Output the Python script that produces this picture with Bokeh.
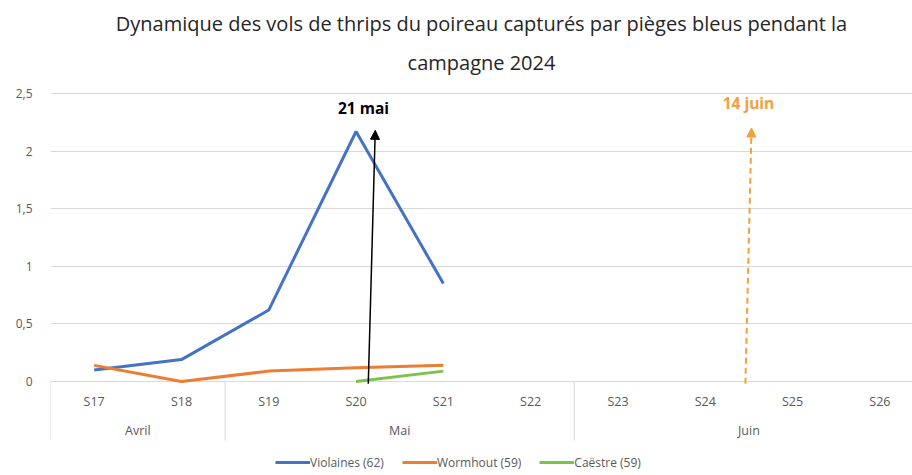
import numpy as np
from bokeh.plotting import figure
from bokeh.models import Range1d, FixedTicker, Arrow, NormalHead, Legend, LegendItem, Title
from bokeh.core.properties import value
from bokeh.embed import file_html
from bokeh.resources import INLINE

nan = np.nan
weeks = ["S17", "S18", "S19", "S20", "S21", "S22", "S23", "S24", "S25", "S26"]
months = ["Avril", "Mai", "Juin"]
weeks_per_month = [2, 4, 4]
violaines = [0.10, 0.19, 0.62, 2.17, 0.85, nan, nan, nan, nan, nan]
wormhout = [0.14, 0.00, 0.09, 0.12, 0.14, nan, nan, nan, nan, nan]
caestre = [nan, nan, nan, 0.00, 0.09, nan, nan, nan, nan, nan]
y_ticks = [0, 0.5, 1, 1.5, 2, 2.5]
y_tick_labels = ["0", "0,5", "1", "1,5", "2", "2,5"]
series_names = ["Violaines (62)", "Wormhout (59)", "Caëstre (59)"]
series_colors = ["#4472C4", "#ED7D31", "#7DC24B"]
title_lines = ["Dynamique des vols de thrips du poireau capturés par pièges bleus pendant la",
               "campagne 2024"]
event_labels = ["21 mai", "14 juin"]
event_x_start = [3.64, 7.96]
event_x_end = [3.72, 8.03]
event_y_end = [2.18, 2.20]
event_label_x = [3.585, 7.995]
event_label_y = [2.37, 2.42]
event_colors = ["#000000", "#F2A03A"]
event_dash = ["solid", "6 4"]

FONT = "Open Sans"
GREY_TXT = "#595959"
GRID = "#d9d9d9"

x = np.arange(len(weeks)) + 0.5

p = figure(width=912, height=475, output_backend="svg", toolbar_location=None,
           x_range=Range1d(0, 9.874), y_range=Range1d(-0.816, 2.569),
           x_axis_type=None, min_border_left=50, min_border_right=0,
           min_border_top=85, min_border_bottom=0)
p.outline_line_color = None
p.background_fill_color = "white"
p.xgrid.visible = False

# title: two centred lines (first line on top)
p.title.text = title_lines[0]
p.title.align = "center"
p.title.text_font = FONT
p.title.text_font_size = "20px"
p.title.text_font_style = "normal"
p.title.text_color = "#262626"
p.title.text_line_height = 1.0
p.title.standoff = 0
p.title.offset = -8
p.add_layout(Title(text=title_lines[1], align="center", text_font=FONT, text_font_size="20px",
                   text_font_style="normal", text_color="#262626", standoff=20,
                   text_line_height=1.0, offset=-8), "above")

yax = p.yaxis[0]
yax.ticker = FixedTicker(ticks=y_ticks)
yax.major_label_overrides = {t: l for t, l in zip(y_ticks, y_tick_labels)}
yax.axis_line_color = None
yax.major_tick_line_color = None
yax.minor_tick_line_color = None
yax.major_label_text_font = FONT
yax.major_label_text_font_size = "12px"
yax.major_label_text_color = GREY_TXT
yax.major_label_standoff = 12
p.ygrid.ticker = FixedTicker(ticks=y_ticks)
p.ygrid.grid_line_color = GRID

# category labels
p.text(x=x, y=-0.174, text=weeks, text_align="center", text_baseline="middle",
       text_font=value(FONT), text_font_size="12.5px", text_color=GREY_TXT)
edges = np.concatenate([[0], np.cumsum(weeks_per_month)])
mcent = (edges[:-1] + edges[1:]) / 2
p.text(x=mcent, y=-0.425, text=months, text_align="center", text_baseline="middle",
       text_font=value(FONT), text_font_size="12.5px", text_color=GREY_TXT)
p.segment(x0=edges, y0=0, x1=edges, y1=-0.512, line_color=GRID, line_width=1)

items = []
for vals, name, col in zip([violaines, wormhout, caestre], series_names, series_colors):
    r = p.line(x, vals, line_color=col, line_width=3)
    items.append(LegendItem(label=name, renderers=[r]))

for i in range(len(event_labels)):
    p.add_layout(Arrow(end=NormalHead(size=9, fill_color=event_colors[i], line_color=event_colors[i]),
                       x_start=event_x_start[i], y_start=-0.02, x_end=event_x_end[i], y_end=event_y_end[i],
                       line_color=event_colors[i], line_width=2 if i else 1.5, line_dash=event_dash[i]))
p.text(x=event_label_x, y=event_label_y, text=event_labels, text_color=event_colors,
       text_align="center", text_baseline="middle", text_font=value(FONT),
       text_font_size="15.5px", text_font_style="bold")

legend = Legend(items=items, orientation="horizontal", location=(225, 4),
                glyph_width=35, label_standoff=0, spacing=18, padding=0, margin=0,
                label_text_font=FONT, label_text_font_size="12px", label_text_color=GREY_TXT,
                background_fill_alpha=0, border_line_color=None, label_height=18, glyph_height=18)
p.add_layout(legend)

open("out.html", "w").write(file_html(p, INLINE))
